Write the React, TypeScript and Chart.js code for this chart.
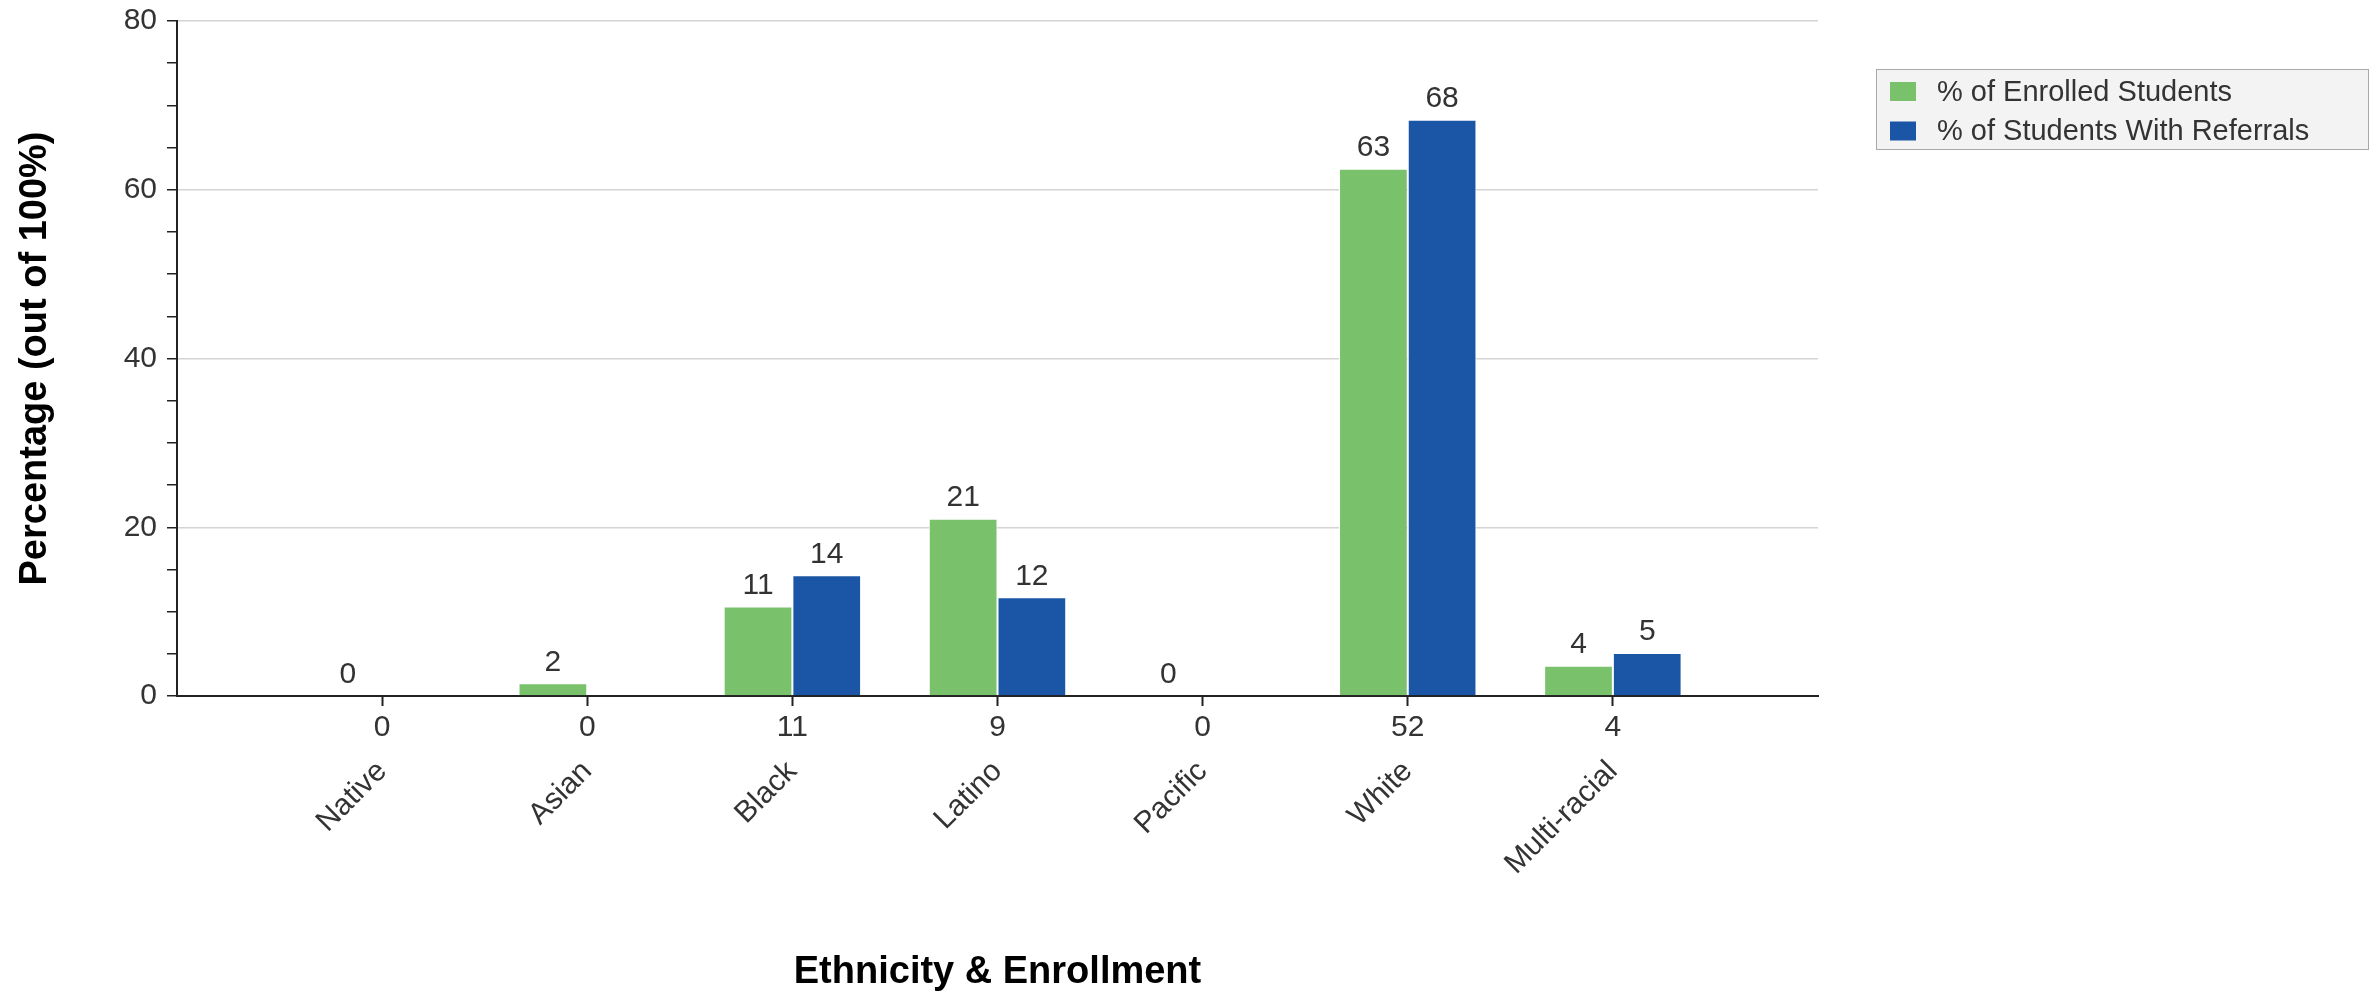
import React, { useEffect, useRef } from "react";
import { Chart, registerables } from "chart.js";

Chart.register(...registerables);

const categories = ["Native", "Asian", "Black", "Latino", "Pacific", "White", "Multi-racial"];
const countLabels = ["0", "0", "11", "9", "0", "52", "4"];
const enrolledPct = [0, 1.5, 10.6, 21.0, 0, 62.5, 3.6];
const referralPct = [null, null, 14.3, 11.7, null, 68.3, 5.1];
const seriesNames = ["% of Enrolled Students", "% of Students With Referrals"];
const seriesColors = ["#79C16B", "#1B56A6"];
const yTickLabels = [0, 20, 40, 60, 80];

const FONT = "'Liberation Sans', Arial, Helvetica, sans-serif";

const valueLabelPlugin = {
  id: "valueLabels",
  afterDatasetsDraw(chart: any) {
    const ctx = chart.ctx;
    ctx.save();
    ctx.font = `30px ${FONT}`;
    ctx.fillStyle = "#333333";
    ctx.textAlign = "center";
    ctx.textBaseline = "bottom";
    chart.data.datasets.forEach((ds: any, di: number) => {
      const meta = chart.getDatasetMeta(di);
      meta.data.forEach((el: any, i: number) => {
        const v = ds.data[i];
        if (v === null || v === undefined) return;
        ctx.fillText(String(Math.round(v)), el.x, el.y - 6);
      });
    });
    ctx.restore();
  },
};

const boxLegendPlugin = {
  id: "boxLegend",
  afterDraw(chart: any) {
    const ctx = chart.ctx;
    const left = chart.chartArea.right + 58;
    const top = 69;
    const width = chart.width - left - 1;
    const height = 80;
    ctx.save();
    ctx.fillStyle = "#F3F3F3";
    ctx.fillRect(left, top, width, height);
    ctx.strokeStyle = "#A8A8A8";
    ctx.lineWidth = 1;
    ctx.strokeRect(left + 0.5, top + 0.5, width, height);
    ctx.font = `29px ${FONT}`;
    ctx.textAlign = "left";
    ctx.textBaseline = "middle";
    chart.data.datasets.forEach((ds: any, i: number) => {
      const cy = top + 22.5 + i * 39.5;
      ctx.fillStyle = ds.backgroundColor;
      ctx.fillRect(left + 14, cy - 9.5, 26, 19);
      ctx.fillStyle = "#333333";
      ctx.fillText(ds.label, left + 61, cy + 1);
    });
    ctx.restore();
  },
};

export default function App() {
  const canvasRef = useRef<HTMLCanvasElement | null>(null);

  useEffect(() => {
    document.body.style.margin = "0";
    const canvas = canvasRef.current;
    if (!canvas) return;
    const labels = ["", ...categories, ""];
    const chart = new Chart(canvas, {
      type: "bar",
      data: {
        labels,
        datasets: [
          {
            label: seriesNames[0],
            data: [null, ...enrolledPct, null],
            backgroundColor: seriesColors[0],
            borderColor: "#FFFFFF",
            borderWidth: 1,
            categoryPercentage: 0.67,
            barPercentage: 1.0,
          },
          {
            label: seriesNames[1],
            data: [null, ...referralPct, null],
            backgroundColor: seriesColors[1],
            borderColor: "#FFFFFF",
            borderWidth: 1,
            categoryPercentage: 0.67,
            barPercentage: 1.0,
          },
        ],
      },
      options: {
        responsive: false,
        devicePixelRatio: 1,
        animation: false,
        layout: { padding: { top: 21, right: 551, bottom: 0, left: 0 } },
        plugins: {
          legend: { display: false },
          tooltip: { enabled: false },
        },
        scales: {
          x: {
            type: "category",
            position: "bottom",
            offset: false,
            grid: {
              display: true,
              offset: false,
              drawOnChartArea: false,
              drawTicks: true,
              tickLength: 10,
              color: "rgba(0,0,0,0)",
              tickColor: (c: any) =>
                c.index === 0 || c.index === labels.length - 1 ? "rgba(0,0,0,0)" : "#222222",
              tickWidth: 2,
            },
            border: { display: true, color: "#222222", width: 2 },
            ticks: {
              autoSkip: false,
              maxRotation: 0,
              minRotation: 0,
              padding: 4,
              color: "#333333",
              font: { family: FONT, size: 30 },
              callback: (_v: any, i: number) =>
                i >= 1 && i <= countLabels.length ? countLabels[i - 1] : "",
            },
            afterFit: (s: any) => {
              s.height = 52;
              s.paddingLeft = 0;
              s.paddingRight = 0;
            },
          },
          x2: {
            type: "category",
            position: "bottom",
            offset: false,
            grid: { display: false, offset: false, drawTicks: false },
            border: { display: false },
            ticks: {
              autoSkip: false,
              maxRotation: 45,
              minRotation: 45,
              padding: 6,
              color: "#333333",
              font: { family: FONT, size: 30 },
              callback: (_v: any, i: number) => labels[i],
            },
            title: {
              display: true,
              text: "Ethnicity & Enrollment",
              color: "#000000",
              font: { family: FONT, size: 38, weight: "bold" },
              padding: { top: 0, bottom: 0 },
            },
            afterFit: (s: any) => {
              s.height = 247;
              s.paddingLeft = 0;
              s.paddingRight = 0;
            },
          },
          y: {
            type: "linear",
            min: 0,
            max: 80,
            grid: {
              color: (c: any) =>
                c.tick && c.tick.value % 20 === 0 && c.tick.value !== 0 ? "#D4D4D4" : "rgba(0,0,0,0)",
              lineWidth: 1.5,
              drawTicks: true,
              tickLength: 10,
              tickColor: "#222222",
              tickWidth: 1.5,
            },
            border: { display: true, color: "#222222", width: 2 },
            ticks: {
              stepSize: 5,
              autoSkip: false,
              padding: 10,
              color: "#333333",
              font: { family: FONT, size: 30 },
              callback: (v: any) => (yTickLabels.includes(Number(v)) ? String(v) : ""),
            },
            title: {
              display: true,
              text: "Percentage (out of 100%)",
              color: "#000000",
              font: { family: FONT, size: 38, weight: "bold" },
              padding: { top: 13, bottom: 0 },
            },
            afterFit: (s: any) => {
              s.width = 177;
              s.paddingTop = 0;
              s.paddingBottom = 0;
            },
          },
        },
      },
      plugins: [valueLabelPlugin, boxLegendPlugin],
    } as any);
    return () => chart.destroy();
  }, []);

  return (
    <div style={{ width: 2369, height: 995, background: "#FFFFFF" }}>
      <canvas ref={canvasRef} width={2369} height={995} style={{ display: "block" }} />
    </div>
  );
}
